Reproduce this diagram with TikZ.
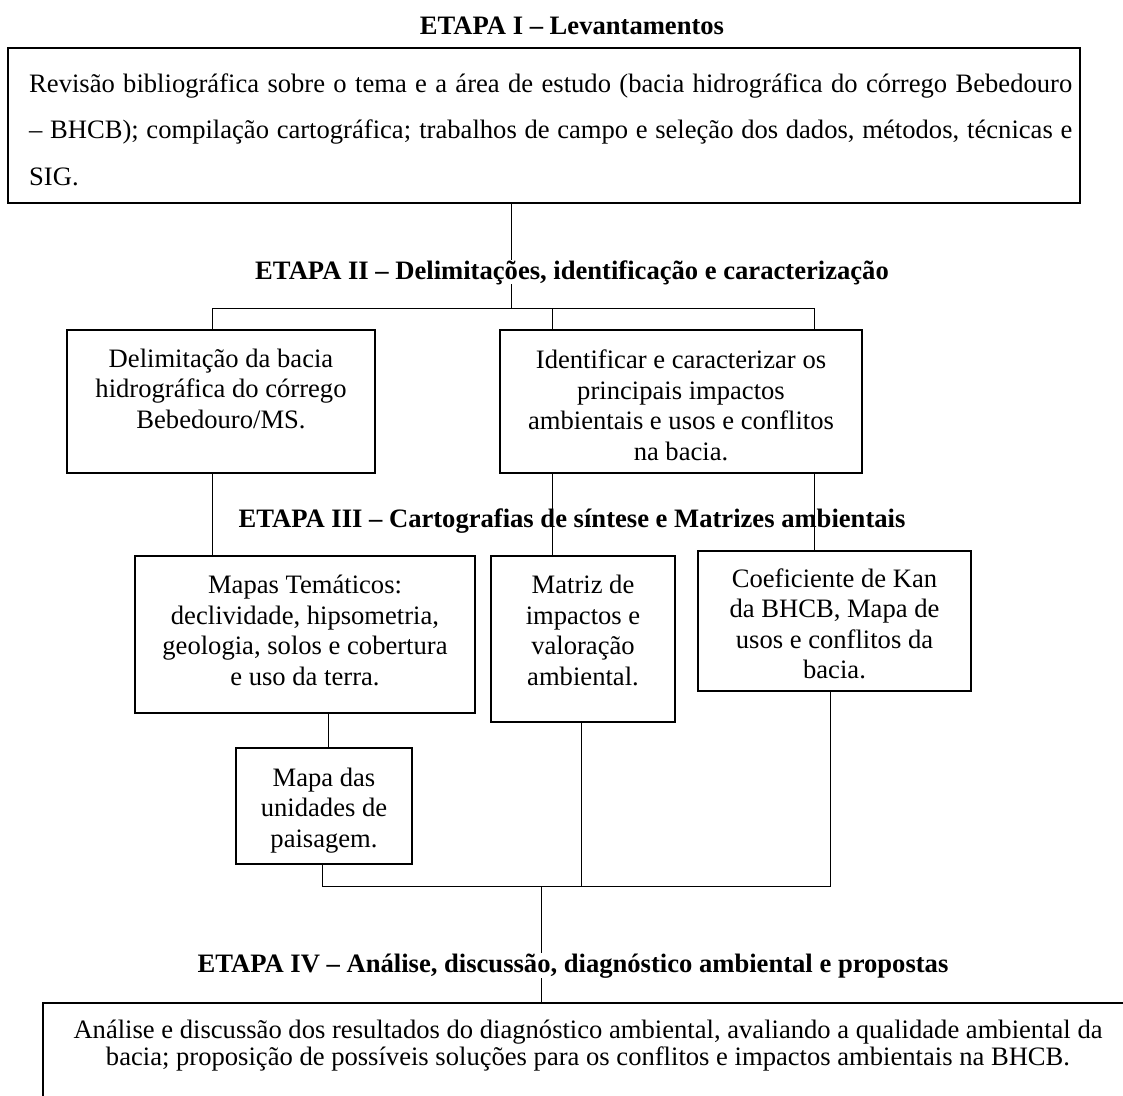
\documentclass[tikz,border=0pt]{standalone}
\usepackage{fontspec}
\setmainfont{Liberation Serif}
\newcommand\ls{\rule[-8.5pt]{0pt}{30.5pt}}
\newcommand\lsb{\rule[-6pt]{0pt}{27pt}}
\begin{document}
\begin{tikzpicture}[x=1pt,y=-1pt,
  box/.style={draw, line width=2pt, inner sep=0pt, fill=none},
  conn/.style={line width=1pt},
  ttl/.style={font=\fontsize{26.6}{30.5}\selectfont\bfseries, inner sep=0pt, anchor=base},
  txt/.style={font=\fontsize{26.6}{30.5}\selectfont, align=center, inner sep=0pt, anchor=north}]
\useasboundingbox (0,0) rectangle (1123,1095);
\clip (0,0) rectangle (1123,1095);

% boxes
\node[box, minimum width=1072pt, minimum height=155pt] (b1) at (544,125.5) {};
\node[box, minimum width=308pt, minimum height=143pt] (d1) at (221,401.5) {};
\node[box, line width=2.8pt, minimum width=362pt, minimum height=143pt] (d2) at (681,401.5) {};
\node[box, minimum width=340pt, minimum height=157pt] (m1) at (305,634.5) {};
\node[box, minimum width=184pt, minimum height=166pt] (m2) at (583,639) {};
\node[box, minimum width=273pt, minimum height=140pt] (m3) at (834.5,621) {};
\node[box, minimum width=176pt, minimum height=116pt] (m4) at (324,806) {};
\node[box, minimum width=1092pt, minimum height=107pt] (b4) at (589,1056.5) {};

% junction coordinates
\coordinate (h2a) at (212,308);
\coordinate (h2m) at (552,308);
\coordinate (h2b) at (814,308);
\coordinate (h2c) at (511,308);
\coordinate (x1) at (328,730);
\coordinate (h3a) at (322,886);
\coordinate (h3m) at (581,886);
\coordinate (h3b) at (830,886);
\coordinate (h3c) at (541,886);

% connectors
\draw[conn] (b1.south -| h2c) -- (h2c);
\draw[conn] (h2a) -- (h2b);
\draw[conn] (h2a) -- (d1.north -| h2a);
\draw[conn] (h2m) -- (d2.north -| h2m);
\draw[conn] (h2b) -- (d2.north -| h2b);
\draw[conn] (d1.south -| h2a) -- (m1.north -| h2a);
\draw[conn] (d2.south -| h2m) -- (m2.north -| h2m);
\draw[conn] (d2.south -| h2b) -- (m3.north -| h2b);
\draw[conn] (m1.south -| x1) -- (m4.north -| x1);
\draw[conn] (m4.south -| h3a) -- (h3a) -- (h3b) -- (m3.south -| h3b);
\draw[conn] (m2.south -| h3m) -- (h3m);
\draw[conn] (h3c) -- (b4.north -| h3c);

% titles
\node[ttl] (t1) at (572,34) {ETAPA I – Levantamentos};
\node[ttl, fill=white] (t2) at (572,279) {ETAPA II – Delimitações, identificação e caracterização};
\node[ttl] (t3) at (572,527) {ETAPA III – Cartografias de síntese e Matrizes ambientais};
\node[ttl, fill=white] (t4) at (573,972) {ETAPA IV – Análise, discussão, diagnóstico ambiental e propostas};

% texts
\node[inner sep=0pt, anchor=north west, align=left, font=\fontsize{26.6}{46.5}\selectfont] (tx1) at (29,70)
  {\ls\makebox[1043pt][s]{Revisão bibliográfica sobre o tema e a área de estudo (bacia hidrográfica do córrego Bebedouro}\\
   \ls\makebox[1043pt][s]{– BHCB); compilação cartográfica; trabalhos de campo e seleção dos dados, métodos, técnicas e}\\
   \ls SIG.};
\node[txt] (tx2) at (221,345) {\ls Delimitação da bacia\\ \ls hidrográfica do córrego\\ \ls Bebedouro/MS.};
\node[txt] (tx3) at (681,346.5) {\ls Identificar e caracterizar os\\ \ls principais impactos\\ \ls ambientais e usos e conflitos\\ \ls na bacia.};
\node[txt] (tx4) at (305,571.5) {\ls Mapas Temáticos:\\ \ls declividade, hipsometria,\\ \ls geologia, solos e cobertura\\ \ls e uso da terra.};
\node[txt] (tx5) at (583,571.5) {\ls Matriz de\\ \ls impactos e\\ \ls valoração\\ \ls ambiental.};
\node[txt] (tx6) at (834.5,565) {\ls Coeficiente de Kan\\ \ls da BHCB, Mapa de\\ \ls usos e conflitos da\\ \ls bacia.};
\node[txt] (tx7) at (324,764) {\ls Mapa das\\ \ls unidades de\\ \ls paisagem.};
\node[txt, font=\fontsize{26.6}{27}\selectfont] (tx8) at (588,1017) {\lsb Análise e discussão dos resultados do diagnóstico ambiental, avaliando a qualidade ambiental da\\ \lsb bacia; proposição de possíveis soluções para os conflitos e impactos ambientais na BHCB.};
\end{tikzpicture}
\end{document}
